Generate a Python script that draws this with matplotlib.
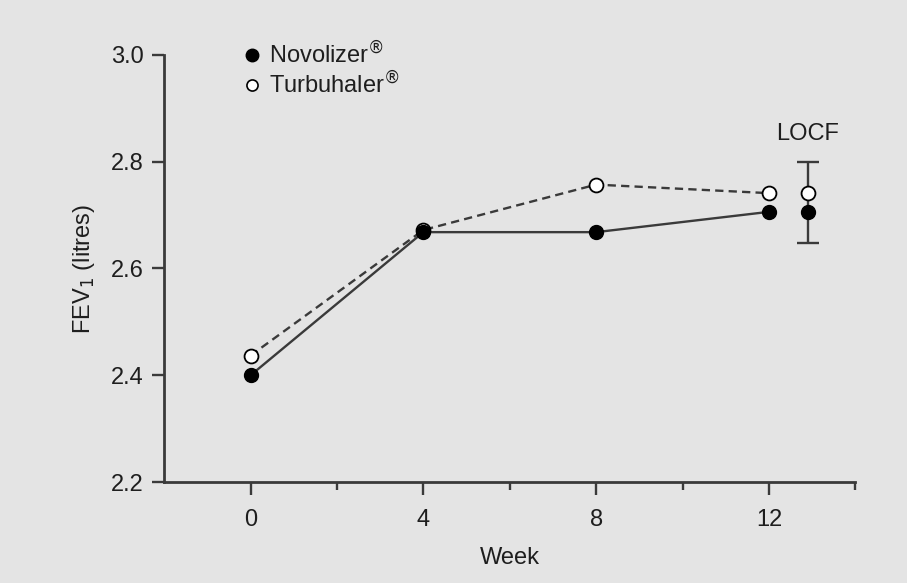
import matplotlib.pyplot as plt
from matplotlib.lines import Line2D

# data
weeks = [0, 4, 8, 12]
novolizer = [2.40, 2.668, 2.668, 2.706]
turbuhaler = [2.437, 2.672, 2.757, 2.741]
locf_x = 12.9
locf_novolizer = 2.706
locf_turbuhaler = 2.741
locf_err_low = 0.059   # lower bar below Novolizer
locf_err_high = 0.059  # upper bar above Turbuhaler

plt.rcParams['font.family'] = ['Liberation Sans', 'DejaVu Sans']
bg = '#e4e4e4'
line_col = '#3a3a3a'
txt_col = '#1e1e1e'
fs = 17

fig = plt.figure(figsize=(9.07, 5.83), dpi=100, facecolor=bg)
ax = fig.add_axes([0.181, 0.173, 0.762, 0.733], facecolor=bg)

ax.plot(weeks, turbuhaler, ls=(0, (3.5, 2.2)), color=line_col, lw=1.7, zorder=2)
ax.plot(weeks, novolizer, ls='-', color=line_col, lw=1.7, zorder=2)
ax.plot(weeks, turbuhaler, ls='none', marker='o', ms=10, mfc='white', mec='black', mew=1.3, zorder=3)
ax.plot(weeks, novolizer, ls='none', marker='o', ms=10, mfc='black', mec='black', zorder=4)

# LOCF: one bar from below Novolizer to above Turbuhaler
lo = locf_novolizer - locf_err_low
hi = locf_turbuhaler + locf_err_high
ax.errorbar([locf_x], [(lo + hi) / 2], yerr=[(hi - lo) / 2], fmt='none', ecolor=line_col,
            elinewidth=1.7, capsize=8, capthick=1.7, zorder=1)
ax.plot([locf_x], [locf_turbuhaler], ls='none', marker='o', ms=10, mfc='white', mec='black',
        mew=1.3, zorder=3)
ax.plot([locf_x], [locf_novolizer], ls='none', marker='o', ms=10, mfc='black', mec='black', zorder=4)
ax.text(locf_x, 2.852, 'LOCF', ha='center', va='center', fontsize=fs, color=txt_col)

ax.set_xlim(-2, 14)
ax.set_ylim(2.2, 3.0)
ax.set_xticks([0, 4, 8, 12])
ax.set_xticks([2, 6, 10, 14], minor=True)
ax.set_yticks([2.2, 2.4, 2.6, 2.8, 3.0])
ax.set_yticklabels(['2.2', '2.4', '2.6', '2.8', '3.0'])

for s in ['top', 'right']:
    ax.spines[s].set_visible(False)
for s in ['left', 'bottom']:
    ax.spines[s].set_color(line_col)
    ax.spines[s].set_linewidth(2)
ax.tick_params(axis='both', which='major', length=9, width=1.7, color=line_col,
               labelsize=fs, labelcolor=txt_col, pad=6)
ax.tick_params(axis='x', which='major', pad=10)
ax.tick_params(axis='x', which='minor', length=6, width=1.7, color=line_col)

ax.set_xlabel('Week', fontsize=fs, color=txt_col, labelpad=12)
ax.set_ylabel('FEV$_1$ (litres)', fontsize=fs, color=txt_col, labelpad=10)

handles = [
    Line2D([], [], ls='none', marker='o', ms=9, mfc='black', mec='black'),
    Line2D([], [], ls='none', marker='o', ms=8, mfc='white', mec='black', mew=1.2),
]
labels = ['Novolizer$^{®}$', 'Turbuhaler$^{®}$']
ax.legend(handles, labels, loc='upper left', bbox_to_anchor=(0.117, 1.032), frameon=False,
          fontsize=fs, handlelength=0.6, handletextpad=0.4, labelspacing=0.12,
          borderpad=0, borderaxespad=0, labelcolor=txt_col)

fig.savefig('out.png', dpi=100, facecolor=bg)
